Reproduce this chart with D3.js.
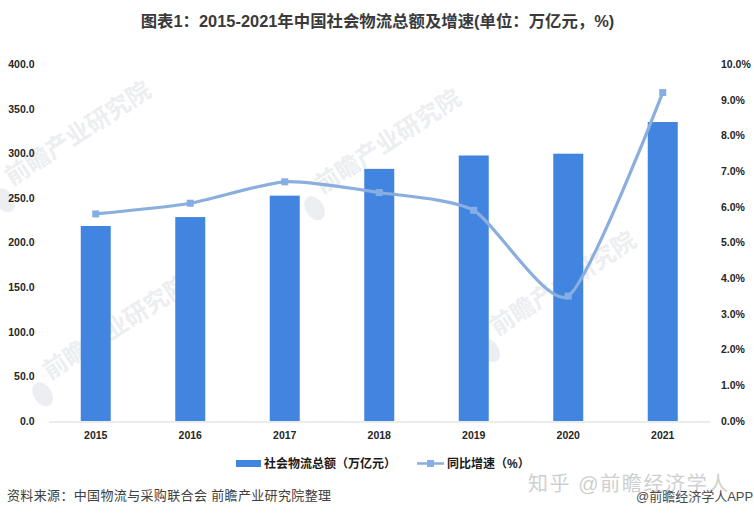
<!DOCTYPE html>
<html><head><meta charset="utf-8">
<script src="https://cdn.jsdelivr.net/npm/d3@7/dist/d3.min.js"></script>
<style>html,body{margin:0;padding:0;background:#fff}svg{display:block}</style></head>
<body><svg id="c" width="754" height="516"></svg>
<script>
const years=["2015","2016","2017","2018","2019","2020","2021"];
const totals=[218.5,228.5,252.5,282.5,297.5,299.5,335.0];
const growth=[5.8,6.1,6.7,6.4,5.9,3.5,9.2];
const leftTicks=[0,50,100,150,200,250,300,350,400];
const rightTicks=[0,1,2,3,4,5,6,7,8,9,10];
const titleText="图表1：2015-2021年中国社会物流总额及增速(单位：万亿元，%)";
const barName="社会物流总额（万亿元）";
const lineName="同比增速（%）";
const sourceText="资料来源：中国物流与采购联合会 前瞻产业研究院整理";
const wmText="前瞻产业研究院";
const wmAnchors=[[12,186],[322,194],[497,336],[50,380]];

const font="'Liberation Sans','Noto Sans CJK SC',sans-serif";
const svg=d3.select("#c").style("font-family",font);
const x=d3.scaleBand().domain(years).range([48.5,710]);
const yL=d3.scaleLinear().domain([0,400]).range([421,64]);
const yR=d3.scaleLinear().domain([0,10]).range([421,64]);

// watermarks
const wm=svg.append("g").selectAll("g").data(wmAnchors).join("g")
  .attr("transform",d=>`translate(${d[0]},${d[1]}) rotate(-33)`);
wm.append("text").attr("font-size",24).attr("font-weight",700).attr("fill","#eceef1").text(wmText);
wm.append("ellipse").attr("cx",-14).attr("cy",8).attr("rx",9).attr("ry",13).attr("fill","#eceef1");

// title
svg.append("text").attr("x",377.5).attr("y",27).attr("text-anchor","middle")
  .attr("font-size",16.4).attr("font-weight",700).attr("fill","#3a3a3a").text(titleText);

// bars
svg.append("g").selectAll("rect").data(years).join("rect")
  .attr("x",d=>x(d)+x.bandwidth()/2-15).attr("width",30)
  .attr("y",(d,i)=>yL(totals[i])).attr("height",(d,i)=>yL(0)-yL(totals[i]))
  .attr("fill","#4285e0");

// axes
const axL=svg.append("g").attr("transform","translate(48.5,0)")
  .call(d3.axisLeft(yL).tickValues(leftTicks).tickFormat(d3.format(".1f")).tickSize(0).tickPadding(14));
const axR=svg.append("g").attr("transform","translate(710,0)")
  .call(d3.axisRight(yR).tickValues(rightTicks).tickFormat(d=>d.toFixed(1)+"%").tickSize(0).tickPadding(11));
const axB=svg.append("g").attr("transform","translate(0,421.5)")
  .call(d3.axisBottom(x).tickSize(0).tickPadding(10));
[axL,axR].forEach(a=>a.select(".domain").remove());
axB.select(".domain").attr("stroke","#d9d9d9").attr("stroke-width",1);
[axL,axR,axB].forEach(a=>a.selectAll("text").attr("font-family",font).attr("font-size",10.5).attr("font-weight",700).attr("fill","#262626"));

// line
const cx=(d,i)=>x(years[i])+x.bandwidth()/2;
const line=d3.line().x(cx).y(d=>yR(d)).curve(d3.curveCardinal.tension(0.35));
svg.append("path").datum(growth).attr("d",line).attr("fill","none")
  .attr("stroke","#8aaede").attr("stroke-width",3.2);
svg.append("g").selectAll("rect").data(growth).join("rect")
  .attr("x",(d,i)=>cx(d,i)-3.5).attr("y",d=>yR(d)-3.5).attr("width",7).attr("height",7)
  .attr("fill","#85aee6");

// legend
svg.append("rect").attr("x",236).attr("y",460).attr("width",25).attr("height",7).attr("fill","#4285e0");
svg.append("text").attr("x",264).attr("y",468).attr("font-size",12).attr("font-weight",700).attr("fill","#1a1a1a").text(barName);
svg.append("line").attr("x1",417).attr("x2",444).attr("y1",463.5).attr("y2",463.5).attr("stroke","#8aaede").attr("stroke-width",2.5);
svg.append("rect").attr("x",427).attr("y",460).attr("width",7).attr("height",7).attr("fill","#85aee6");
svg.append("text").attr("x",447).attr("y",468).attr("font-size",12).attr("font-weight",700).attr("fill","#1a1a1a").text(lineName);

// source
svg.append("text").attr("x",7).attr("y",500).attr("font-size",13).attr("letter-spacing",0.35).attr("fill","#404040").text(sourceText);

// zhihu marks
svg.append("text").attr("x",528).attr("y",491).attr("font-size",20).attr("letter-spacing",1.6).attr("fill","#cfcfcf").text("知乎 @前瞻经济学人");
svg.append("text").attr("x",636).attr("y",501).attr("font-size",13).attr("fill","#4a4a4a").text("@前瞻经济学人APP");
</script></body></html>
